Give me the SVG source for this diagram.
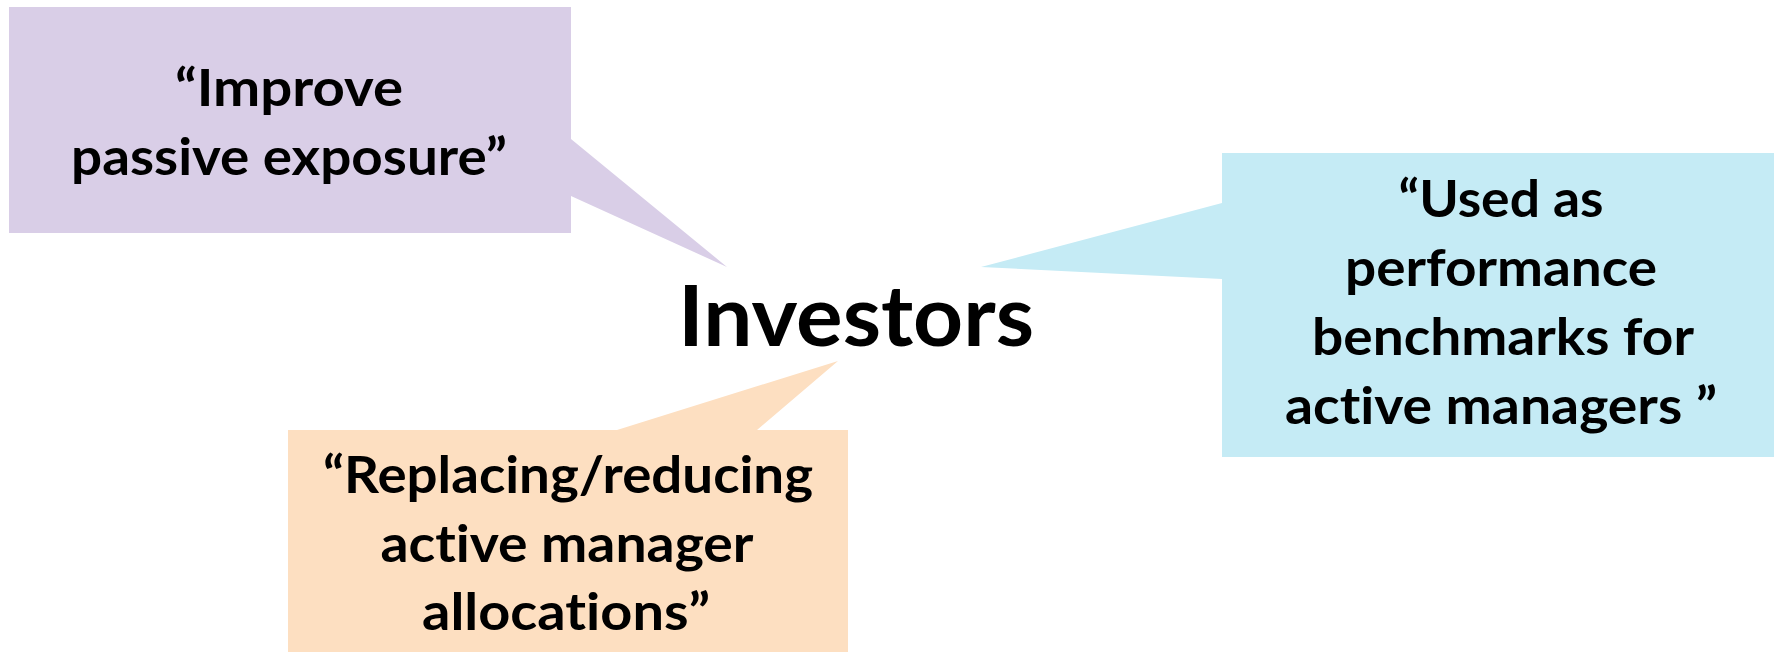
<svg xmlns="http://www.w3.org/2000/svg" width="1774" height="652" viewBox="0 0 1774 652">
  <style>
    .lbl { font-family: Lato, "Open Sans", "Liberation Sans", sans-serif; font-weight: 700; font-size: 52px; fill: #000; text-anchor: middle; font-variant-ligatures: none; }
    .title { font-family: Lato, "Open Sans", "Liberation Sans", sans-serif; font-weight: 700; font-size: 84px; fill: #000; text-anchor: middle; font-variant-ligatures: none; }
    .purple { fill: #D9CEE7; }
    .blue { fill: #C5EBF5; }
    .orange { fill: #FDDFC1; }
  </style>
  <rect width="1774" height="652" fill="#FFFFFF"/>

  <!-- Callout: passive exposure (box with tail pointing at the centre label) -->
  <g id="callout-passive">
    <path class="purple" d="M9,7 H571 V139 L727,267 L571,196 V233 H9 Z"/>
    <text class="lbl" x="289" y="106" textLength="228" lengthAdjust="spacingAndGlyphs">“Improve</text>
    <text class="lbl" x="289" y="175" textLength="436" lengthAdjust="spacingAndGlyphs">passive exposure”</text>
  </g>

  <!-- Callout: performance benchmarks -->
  <g id="callout-benchmarks">
    <path class="blue" d="M1222,153 H1774 V457 H1222 V279 L981,267 L1222,203 Z"/>
    <text class="lbl" x="1501" y="217" textLength="205" lengthAdjust="spacingAndGlyphs">“Used as</text>
    <text class="lbl" x="1501" y="286" textLength="312" lengthAdjust="spacingAndGlyphs">performance</text>
    <text class="lbl" x="1503" y="355" textLength="382" lengthAdjust="spacingAndGlyphs">benchmarks for</text>
    <text class="lbl" x="1501" y="424" textLength="432" lengthAdjust="spacingAndGlyphs">active managers ”</text>
  </g>

  <!-- Callout: replacing active managers -->
  <g id="callout-replacing">
    <path class="orange" d="M288,430 H617 L838,361 L757,430 H848 V652 H288 Z"/>
    <text class="lbl" x="568" y="493" textLength="490" lengthAdjust="spacingAndGlyphs">“Replacing/reducing</text>
    <text class="lbl" x="567" y="562" textLength="373" lengthAdjust="spacingAndGlyphs">active manager</text>
    <text class="lbl" x="566" y="630" textLength="288" lengthAdjust="spacingAndGlyphs">allocations”</text>
  </g>

  <!-- Central label -->
  <g id="investors">
    <text class="title" x="856" y="346" textLength="356" lengthAdjust="spacingAndGlyphs">Investors</text>
  </g>
</svg>
